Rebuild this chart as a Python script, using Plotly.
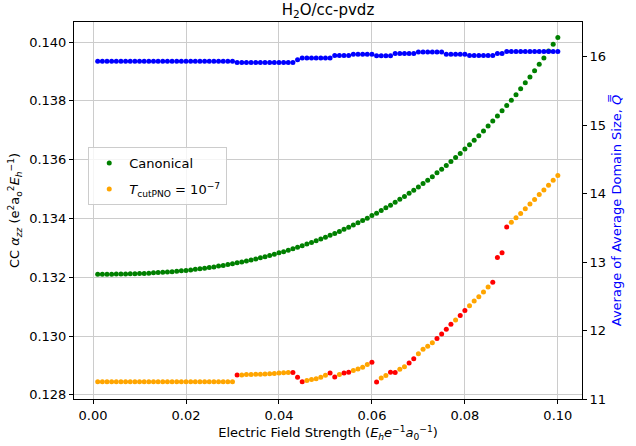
import plotly.graph_objects as go

field = [round(0.001 * i, 3) for i in range(1, 101)]

canonical = [
    0.13210, 0.13210, 0.13210, 0.13210, 0.13211, 0.13211, 0.13211, 0.13212, 0.13212, 0.13213,
    0.13213, 0.13214, 0.13215, 0.13216, 0.13217, 0.13218, 0.13219, 0.13220, 0.13222, 0.13223,
    0.13225, 0.13227, 0.13229, 0.13231, 0.13233, 0.13235, 0.13238, 0.13240, 0.13243, 0.13246,
    0.13249, 0.13252, 0.13255, 0.13259, 0.13262, 0.13266, 0.13270, 0.13274, 0.13278, 0.13283,
    0.13287, 0.13292, 0.13297, 0.13302, 0.13307, 0.13313, 0.13318, 0.13324, 0.13330, 0.13336,
    0.13343, 0.13349, 0.13356, 0.13363, 0.13370, 0.13378, 0.13385, 0.13393, 0.13401, 0.13410,
    0.13418, 0.13427, 0.13436, 0.13445, 0.13455, 0.13465, 0.13475, 0.13486, 0.13496, 0.13507,
    0.13519, 0.13530, 0.13542, 0.13555, 0.13567, 0.13580, 0.13594, 0.13607, 0.13621, 0.13636,
    0.13651, 0.13666, 0.13681, 0.13697, 0.13714, 0.13731, 0.13748, 0.13766, 0.13784, 0.13802,
    0.13821, 0.13841, 0.13861, 0.13881, 0.13902, 0.13924, 0.13946, 0.13969, 0.13992, 0.14015,
]

pno = [
    0.12845, 0.12845, 0.12845, 0.12845, 0.12845, 0.12845, 0.12845, 0.12845, 0.12845, 0.12845,
    0.12845, 0.12845, 0.12845, 0.12845, 0.12845, 0.12845, 0.12845, 0.12845, 0.12845, 0.12845,
    0.12845, 0.12845, 0.12845, 0.12845, 0.12845, 0.12845, 0.12845, 0.12845, 0.12845, 0.12845,
    0.12868, 0.12868, 0.12869, 0.12869, 0.12870, 0.12870, 0.12871, 0.12872, 0.12873, 0.12874,
    0.12875, 0.12876, 0.12876, 0.12860, 0.12845, 0.12849, 0.12852, 0.12855, 0.12860, 0.12867,
    0.12874, 0.12861, 0.12869, 0.12874, 0.12877, 0.12883, 0.12888, 0.12894, 0.12903, 0.12911,
    0.12844, 0.12857, 0.12866, 0.12877, 0.12876, 0.12887, 0.12896, 0.12908, 0.12923, 0.12940,
    0.12955, 0.12965, 0.12977, 0.12992, 0.13007, 0.13023, 0.13040, 0.13055, 0.13070, 0.13087,
    0.13103, 0.13119, 0.13134, 0.13150, 0.13167, 0.13183, 0.13267, 0.13283, 0.13371, 0.13387,
    0.13402, 0.13417, 0.13433, 0.13449, 0.13464, 0.13481, 0.13497, 0.13513, 0.13530, 0.13546,
]

# field strengths where the PNO point is highlighted in red
pno_flagged = [0.031, 0.043, 0.044, 0.045, 0.051, 0.052, 0.054, 0.055, 0.060,
               0.061, 0.064, 0.065, 0.068, 0.069, 0.074, 0.075, 0.076, 0.077, 0.079,
               0.080, 0.086, 0.087, 0.088, 0.089]

domain = (
    [15.937] * 30 + [15.917] * 13 + [15.96] + [15.985] * 7 + [16.02] * 4 + [16.04] * 5
    + [16.015] * 4 + [16.05] * 5 + [16.07] * 6 + [16.04] * 5 + [16.02] * 6 + [16.05] * 2
    + [16.08] * 12
)

x_ticks = [0.00, 0.02, 0.04, 0.06, 0.08, 0.10]
y_ticks = [0.128, 0.130, 0.132, 0.134, 0.136, 0.138, 0.140]
y2_ticks = [11, 12, 13, 14, 15, 16]

FONT = "DejaVu Sans"
FS = 13
pno_colors = ["red" if f in pno_flagged else "orange" for f in field]

fig = go.Figure()
fig.add_trace(go.Scatter(x=field, y=canonical, mode="markers", name="Canonical",
                         legendgroup="a",
                         marker=dict(color="green", size=5), yaxis="y"))
fig.add_trace(go.Scatter(x=field, y=pno, mode="markers",
                         name="<i>T</i><sub>cutPNO</sub> = 10<sup>−7</sup>",
                         legendgroup="b",
                         marker=dict(color=pno_colors, size=5), yaxis="y"))
fig.add_trace(go.Scatter(x=field, y=domain, mode="markers", showlegend=False,
                         marker=dict(color="blue", size=5), yaxis="y2"))

axis_common = dict(showline=True, linecolor="black", linewidth=1, ticks="outside",
                   ticklen=4, tickcolor="black", zeroline=False, automargin=False,
                   tickfont=dict(family=FONT, size=FS, color="black"))

fig.update_layout(
    width=636, height=446,
    margin=dict(l=74, r=54, t=22, b=47),
    paper_bgcolor="white", plot_bgcolor="white",
    font=dict(family=FONT, size=FS, color="black"),
    title=dict(text="H<sub>2</sub>O/cc-pvdz", x=0.5, xref="paper", y=0.99,
               yanchor="top", font=dict(family=FONT, size=15)),
    xaxis=dict(range=[-0.0041, 0.1052], tickvals=x_ticks, tickformat=".2f",
               showgrid=True, gridcolor="#cccccc", mirror=True,
               title=dict(text="Electric Field Strength (<i>E</i><sub><i>h</i></sub><i>e</i><sup>−1</sup><i>a</i><sub>0</sub><sup>−1</sup>)",
                          font=dict(family=FONT, size=FS), standoff=6),
               **axis_common),
    yaxis=dict(range=[0.12786, 0.14068], tickvals=y_ticks, tickformat=".3f",
               showgrid=True, gridcolor="#cccccc",
               title=dict(text="CC <i>α</i><sub><i>zz</i></sub> (e<sup>2</sup>a<sub>o</sub><sup>2</sup><i>E</i><sub><i>h</i></sub><sup>−1</sup>)",
                          font=dict(family=FONT, size=FS), standoff=6),
               **axis_common),
    yaxis2=dict(range=[11, 16.51], tickvals=y2_ticks, overlaying="y", side="right",
                showgrid=False,
                title=dict(text="Average of Average Domain Size, <i>Q̿</i>",
                           font=dict(family=FONT, size=FS, color="blue"), standoff=6),
                **axis_common),
    legend=dict(x=0.028, y=0.668, xanchor="left", yanchor="top",
                bgcolor="rgba(255,255,255,0.8)", bordercolor="#cccccc", borderwidth=1,
                font=dict(family=FONT, size=FS), tracegroupgap=6,
                traceorder="grouped"),
)

fig.write_html("out.html")
